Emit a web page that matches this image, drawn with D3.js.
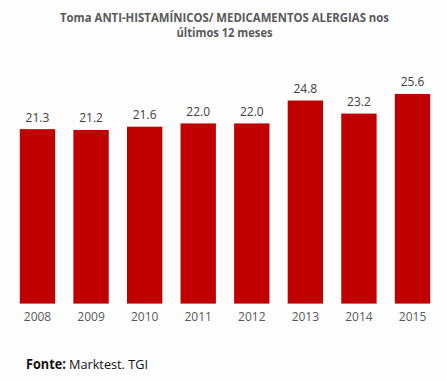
<!DOCTYPE html>
<html><head><meta charset="utf-8">
<script src="https://cdn.jsdelivr.net/npm/d3@7"></script>
<style>html,body{margin:0;padding:0;background:#fdfdfd;}svg{display:block;}</style>
</head><body>
<script>
const years = ["2008","2009","2010","2011","2012","2013","2014","2015"];
const values = [21.3, 21.2, 21.6, 22.0, 22.0, 24.8, 23.2, 25.6];
const titleLines = ["Toma ANTI-HISTAMÍNICOS/ MEDICAMENTOS ALERGIAS nos", "últimos 12 meses"];

const W = 447, H = 381;
const svg = d3.select("body").append("svg").attr("width", W).attr("height", H);
svg.append("rect").attr("width", W).attr("height", H).attr("fill", "#fdfdfd");

const font = "'Open Sans', 'Liberation Sans', sans-serif";
const x = d3.scaleBand().domain(years).range([10.7, 439.3]).paddingInner(0.34).paddingOuter(0.17);
const y = d3.scaleLinear().domain([0, 30]).range([303.6, 57.9]);

svg.selectAll("rect.bar").data(values).enter().append("rect")
  .attr("class", "bar")
  .attr("x", (d, i) => x(years[i]))
  .attr("width", x.bandwidth())
  .attr("y", d => y(d))
  .attr("height", d => y(0) - y(d))
  .attr("fill", "#c00000");

svg.selectAll("text.val").data(values).enter().append("text")
  .attr("class", "val")
  .attr("x", (d, i) => x(years[i]) + x.bandwidth() / 2)
  .attr("y", d => y(d) - 7.5)
  .attr("text-anchor", "middle")
  .attr("font-family", font).attr("font-size", 12).attr("fill", "#404040")
  .text(d => d.toFixed(1));

const xAxis = svg.append("g").attr("transform", `translate(0,${y(0)})`)
  .call(d3.axisBottom(x).tickSize(0).tickPadding(9));
xAxis.select(".domain").remove();
xAxis.selectAll("text").attr("font-family", font).attr("font-size", 12).attr("fill", "#595959");

const title = svg.append("g");
title.selectAll("text").data(titleLines).enter().append("text")
  .attr("x", 224.5).attr("y", (d, i) => 21.5 + i * 15.5)
  .attr("text-anchor", "middle")
  .attr("font-family", font).attr("font-size", 11.5).attr("font-weight", "bold").attr("fill", "#595959")
  .text(d => d)
  .each(function(d, i) {
    const target = i === 0 ? 329 : 96;
    const w = this.getComputedTextLength();
    if (w > target) { this.setAttribute("textLength", target); this.setAttribute("lengthAdjust", "spacingAndGlyphs"); }
  });

const src = svg.append("text").attr("x", 26).attr("y", 369)
  .attr("font-family", font).attr("font-size", 13.5).attr("fill", "#111");
src.append("tspan").attr("font-weight", "bold").text("Fonte:");
src.append("tspan").text(" Marktest. TGI");
src.each(function() {
  const w = this.getComputedTextLength();
  if (w > 122) { this.setAttribute("textLength", 122); this.setAttribute("lengthAdjust", "spacingAndGlyphs"); }
});
</script>
</body></html>
